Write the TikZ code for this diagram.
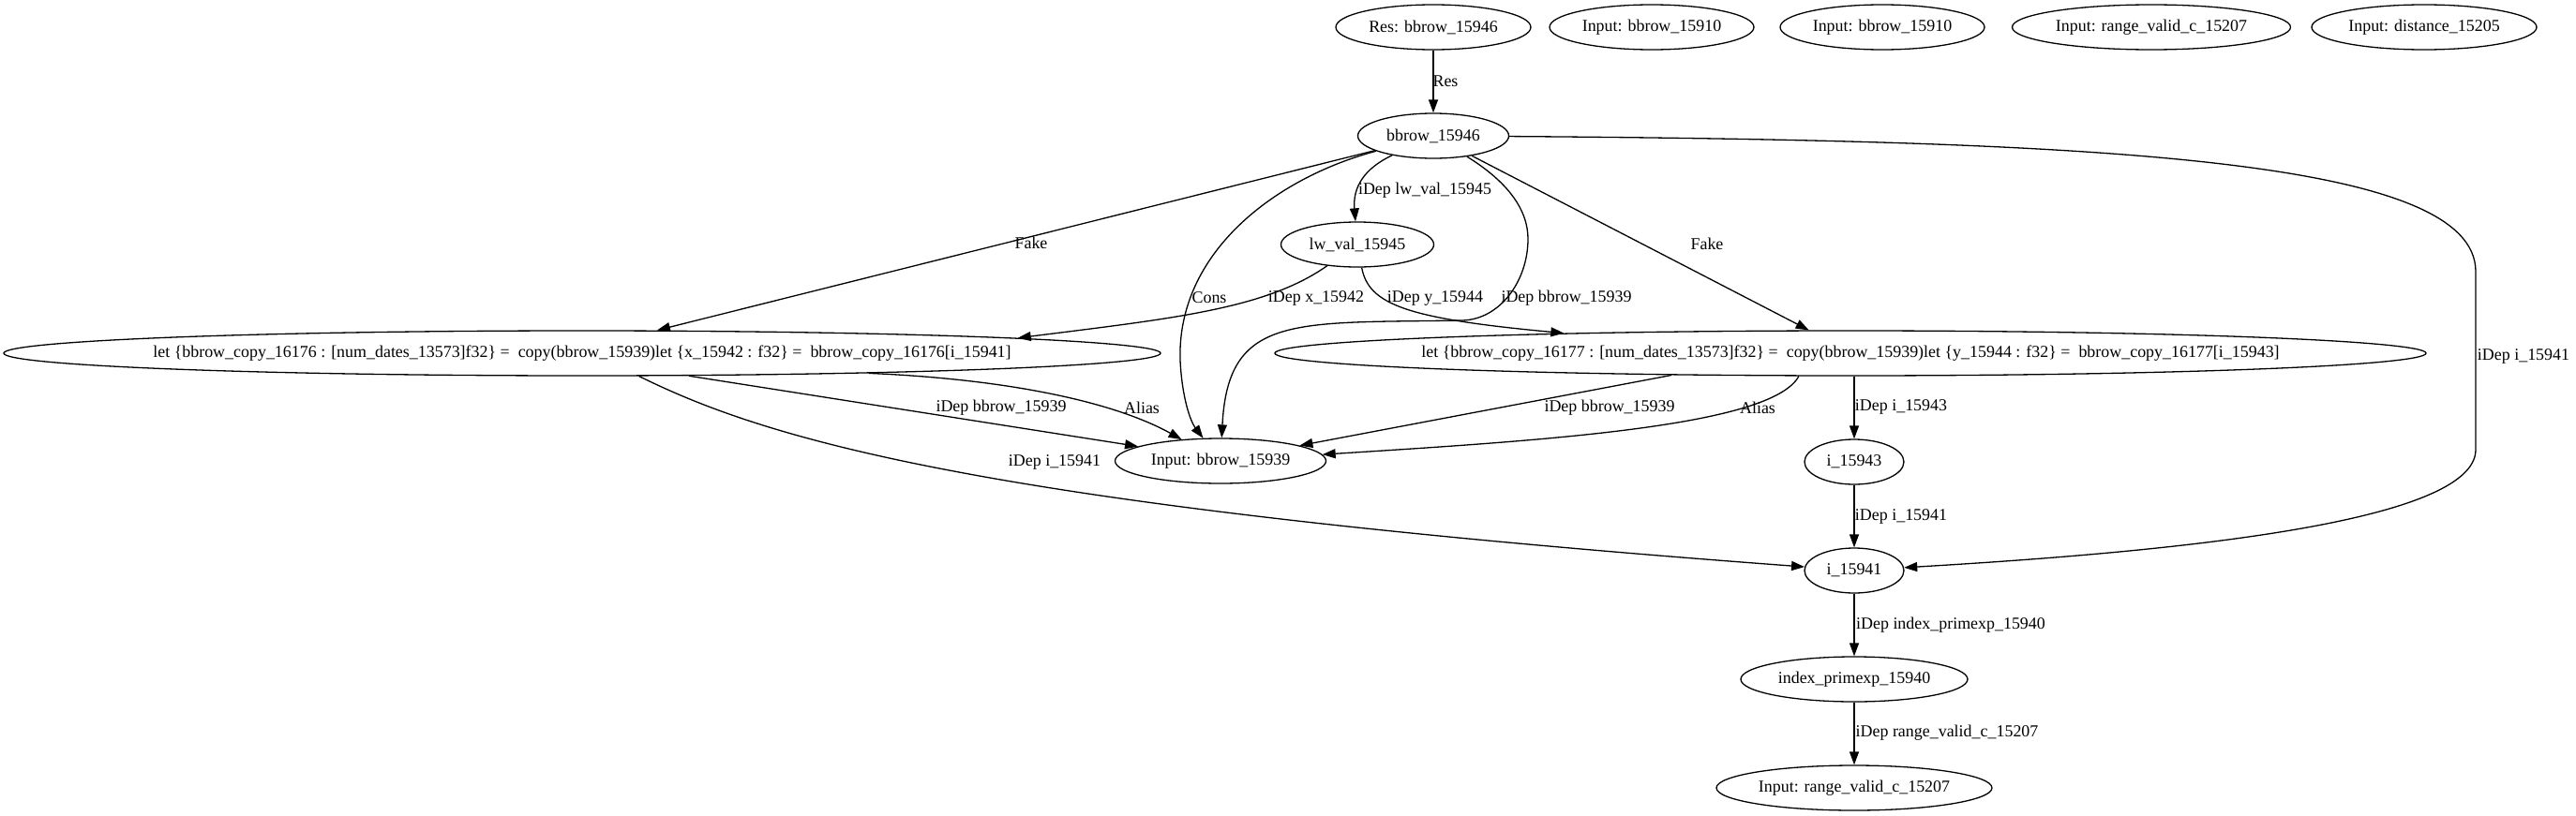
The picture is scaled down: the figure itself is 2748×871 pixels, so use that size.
\documentclass[tikz,border=0pt]{standalone}
\usepackage{fontspec}
\setmainfont{Liberation Serif}
\usetikzlibrary{shapes.geometric,arrows.meta}

\begin{document}
\begin{tikzpicture}[x=1bp,y=-1bp,
    every node/.style={font=\fontsize{18}{20}\selectfont},
    gv/.style={draw, ellipse, line width=1.3bp, inner sep=0pt, minimum height=48bp, minimum width=#1},
    gvwide/.style={gv=#1, inner xsep=-40bp},
    dep/.style={line width=1.3bp, -{Triangle[length=14bp,width=10bp]}}]
  \fill[white] (0,0) rectangle (2748,871);

  \node[gv=208bp] (res) at (1529,29) {Res: bbrow\_15946};
  \node[gv=218bp] (inone) at (1762,29) {Input: bbrow\_15910};
  \node[gv=218bp] (intwo) at (2008,29) {Input: bbrow\_15910};
  \node[gv=297bp] (inrange) at (2295,29) {Input: range\_valid\_c\_15207};
  \node[gv=240bp] (indist) at (2586,29) {Input: distance\_15205};

  \node[gv=161bp] (bbrow) at (1529,145) {bbrow\_15946};
  \node[gv=163bp] (lwval) at (1448,261) {lw\_val\_15945};
  \node[gvwide=1234bp] (leftlet) at (621,377) {let \{bbrow\_copy\_16176 : [num\_dates\_13573]f32\} =\ \ copy(bbrow\_15939)let \{x\_15942 : f32\} =\ \ bbrow\_copy\_16176[i\_15941]};
  \node[gvwide=1228bp] (rightlet) at (1974,377) {let \{bbrow\_copy\_16177 : [num\_dates\_13573]f32\} =\ \ copy(bbrow\_15939)let \{y\_15944 : f32\} =\ \ bbrow\_copy\_16177[i\_15943]};
  \node[gv=225bp] (inbb) at (1302,492) {Input: bbrow\_15939};
  \node[gv=106bp] (i43) at (1978,493) {i\_15943};
  \node[gv=106bp] (i41) at (1978,609) {i\_15941};
  \node[gv=242bp] (idx) at (1978,725) {index\_primexp\_15940};
  \node[gv=294bp] (inrv) at (1978,841) {Input: range\_valid\_c\_15207};

  \draw[dep] (res) -- (bbrow);
  \draw[dep] (bbrow) .. controls (1455,180) and (1443,200) .. (lwval);
  \draw[dep] (bbrow) -- (leftlet.17.5);
  \draw[dep] (bbrow) .. controls (1360,190) and (1255,270) .. (1259,385) .. controls (1261,425) and (1270,450) .. (inbb);
  \draw[dep] (bbrow) -- (rightlet.151);
  \draw[dep] (bbrow) .. controls (1610,195) and (1630,225) .. (1630,255) .. controls (1630,300) and (1600,341) .. (1560,342) .. controls (1380,345) and (1310,335) .. (inbb);
  \draw[dep] (bbrow) .. controls (2250,150) and (2641,170) .. (2641,290) -- (2641,480) .. controls (2641,560) and (2300,590) .. (i41);
  \draw[dep] (lwval) .. controls (1350,330) and (1250,340) .. (leftlet.2.3);
  \draw[dep] (lwval) .. controls (1460,325) and (1500,340) .. (rightlet.176.6);
  \draw[dep] (leftlet.348.7) -- (inbb.170.7);
  \draw[dep] (leftlet.356.8) .. controls (1080,405) and (1190,430) .. (inbb);
  \draw[dep] (leftlet.338.5) .. controls (820,470) and (1050,540) .. (i41);
  \draw[dep] (rightlet.187.6) -- (inbb.11.8);
  \draw[dep] (rightlet.204.2) .. controls (1890,455) and (1650,470) .. (inbb);
  \draw[dep] (rightlet.south -| i43) -- (i43);
  \draw[dep] (i43) -- (i41);
  \draw[dep] (i41) -- (idx);
  \draw[dep] (idx) -- (inrv);

  \node (lres) at (1542,87) {Res};
  \node (llw) at (1520,203) {iDep lw\_val\_15945};
  \node (lfakea) at (1100,259) {Fake};
  \node (lfakeb) at (1821,260) {Fake};
  \node (lcons) at (1290,318) {Cons};
  \node (lx) at (1404,318) {iDep x\_15942};
  \node (ly) at (1531,318) {iDep y\_15944};
  \node (lbba) at (1671,318) {iDep bbrow\_15939};
  \node (lbbb) at (1068,435) {iDep bbrow\_15939};
  \node (laliasa) at (1218,435) {Alias};
  \node (lia) at (1125,493) {iDep i\_15941};
  \node (lbbc) at (1717,435) {iDep bbrow\_15939};
  \node (laliasb) at (1875,435) {Alias};
  \node (li43) at (2028,434) {iDep i\_15943};
  \node (lib) at (2692,380) {iDep i\_15941};
  \node (lic) at (2028,551) {iDep i\_15941};
  \node (lidx) at (2081,667) {iDep index\_primexp\_15940};
  \node (lrv) at (2077,782) {iDep range\_valid\_c\_15207};
\end{tikzpicture}
\end{document}
